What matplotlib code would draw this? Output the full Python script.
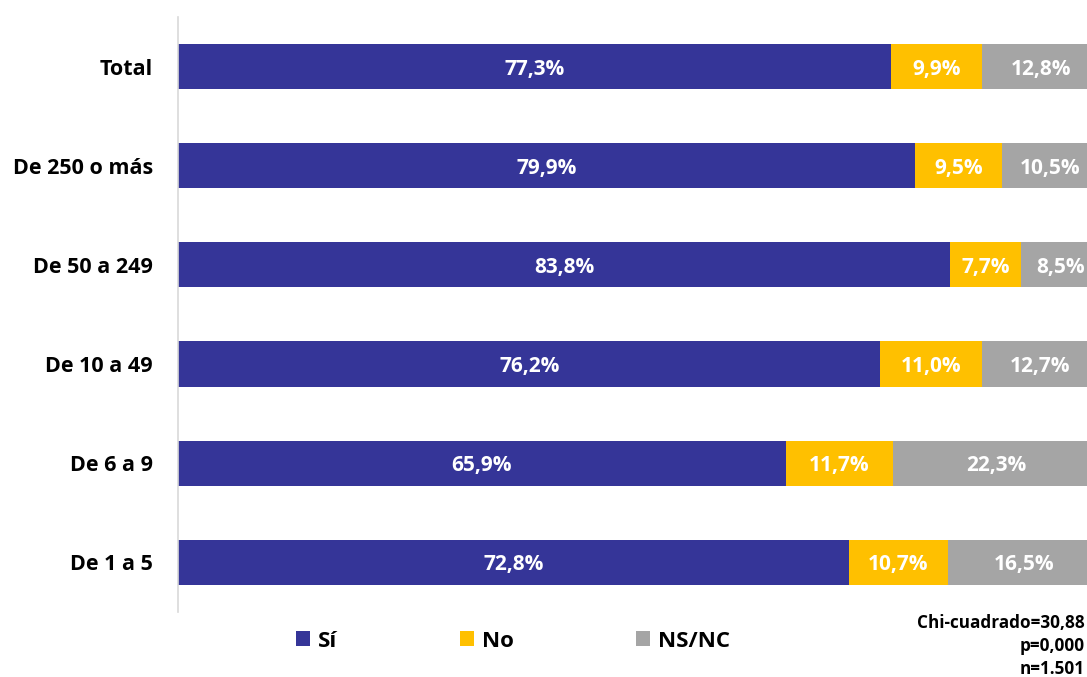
import matplotlib.pyplot as plt
import numpy as np

plt.rcParams['font.family'] = ['Open Sans', 'DejaVu Sans']

categorias = ['Total', 'De 250 o más', 'De 50 a 249', 'De 10 a 49', 'De 6 a 9', 'De 1 a 5']
si = [77.3, 79.9, 83.8, 76.2, 65.9, 72.8]
no = [9.9, 9.5, 7.7, 11.0, 11.7, 10.7]
nsnc = [12.8, 10.5, 8.5, 12.7, 22.3, 16.5]
series = ['Sí', 'No', 'NS/NC']
colores = ['#353598', '#FFC000', '#A5A5A5']

fig = plt.figure(figsize=(10.87, 6.77), dpi=100)
# the plot area runs a bit past the right edge, as in the original
ax = fig.add_axes([0.1638, 0.096, 0.848, 0.879])

y = np.arange(len(categorias))
left = np.zeros(len(categorias))
for nombre, vals, col in zip(series, [si, no, nsnc], colores):
    vals = np.array(vals)
    ax.barh(y, vals, left=left, height=0.455, color=col, label=nombre)
    for yi, l, v in zip(y, left, vals):
        ax.text(l + v / 2, yi, f"{v:.1f}%".replace('.', ','), ha='center', va='center_baseline',
                color='white', fontsize=15, fontweight='bold')
    left += vals

ax.set_xlim(0, 100)
ax.set_ylim(len(categorias) - 0.5, -0.5)
ax.set_yticks(y)
ax.set_yticklabels(categorias, fontsize=15.5, fontweight='bold')
ax.tick_params(axis='y', length=0, pad=18)
ax.set_xticks([])
for s in ['top', 'right', 'bottom']:
    ax.spines[s].set_visible(False)
ax.spines['left'].set_color('#D9D9D9')
ax.spines['left'].set_linewidth(1.2)

leg = fig.legend(loc='center', bbox_to_anchor=(0.472, 0.053), ncol=3, frameon=False,
                 handlelength=0.65, handleheight=0.65, handletextpad=0.35, columnspacing=5.5,
                 prop={'size': 16, 'weight': 'bold'})

fig.text(0.998, 0.046, 'Chi-cuadrado=30,88\np=0,000\nn=1.501', ha='right', va='center',
         fontsize=12.3, fontweight='bold', linespacing=1.35)

fig.savefig('out.png', dpi=100)
